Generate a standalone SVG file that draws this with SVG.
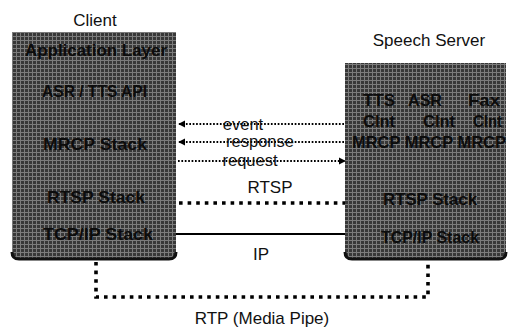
<svg xmlns="http://www.w3.org/2000/svg" width="509" height="331" viewBox="0 0 509 331">
<defs>
<style>
.lbl{font-family:"Liberation Sans",Arial,sans-serif;font-size:17px;fill:#111}
.small{font-family:"Liberation Sans",Arial,sans-serif;font-size:16.5px;fill:#111}
.bt{font-family:"Liberation Sans",Arial,sans-serif;font-size:16.5px;font-weight:bold;fill:#0c0c0c}
.box{fill:url(#tex)}
.edge{fill:none;stroke:#111;stroke-width:3}
.dot{fill:none;stroke:#000;stroke-width:1.8;stroke-dasharray:1.7 1.7}
.thick{fill:none;stroke:#000;stroke-width:3.6;stroke-dasharray:3.6 5}
.solid{fill:none;stroke:#000;stroke-width:2}
</style>
<pattern id="tex" width="4" height="4" patternUnits="userSpaceOnUse">
<rect width="4" height="4" fill="#383838"/>
<path d="M0 0.5H4M0.5 0V4" stroke="#7c7c7c" stroke-width="1"/>
</pattern>
<marker id="ah" viewBox="0 0 8 8" refX="7" refY="4" markerWidth="4" markerHeight="4" orient="auto" markerUnits="strokeWidth">
<path d="M0 0L8 4L0 8Z" fill="#000"/>
</marker>
</defs>
<rect width="509" height="331" fill="#fff"/>

<g id="client">
<text class="lbl" x="95" y="26" text-anchor="middle">Client</text>
<path class="box" d="M12 32H176V252Q176 259 169 259H19Q12 259 12 252Z"/>
<path class="edge" d="M12 252Q12 259 19 259H169Q176 259 176 252"/>
<text class="bt" x="25" y="56" textLength="142" lengthAdjust="spacingAndGlyphs">Application Layer</text>
<text class="bt" x="42" y="97" textLength="105" lengthAdjust="spacingAndGlyphs">ASR / TTS API</text>
<text class="bt" x="43" y="150" textLength="104" lengthAdjust="spacingAndGlyphs">MRCP Stack</text>
<text class="bt" x="47" y="203" textLength="98" lengthAdjust="spacingAndGlyphs">RTSP Stack</text>
<text class="bt" x="43" y="240" textLength="110" lengthAdjust="spacingAndGlyphs">TCP/IP Stack</text>
</g>

<g id="server">
<text class="lbl" x="429" y="46" text-anchor="middle">Speech Server</text>
<path class="box" d="M345 63H506V252Q506 259 499 259H352Q345 259 345 252Z"/>
<path class="edge" d="M345 252Q345 259 352 259H499Q506 259 506 252"/>
<text class="bt" x="363" y="106" textLength="32" lengthAdjust="spacingAndGlyphs">TTS</text>
<text class="bt" x="408" y="106" textLength="34" lengthAdjust="spacingAndGlyphs">ASR</text>
<text class="bt" x="468" y="106" textLength="32" lengthAdjust="spacingAndGlyphs">Fax</text>
<text class="bt" x="363" y="127" textLength="32" lengthAdjust="spacingAndGlyphs">Clnt</text>
<text class="bt" x="423" y="127" textLength="32" lengthAdjust="spacingAndGlyphs">Clnt</text>
<text class="bt" x="473" y="127" textLength="29" lengthAdjust="spacingAndGlyphs">Clnt</text>
<text class="bt" x="352" y="148" textLength="154" lengthAdjust="spacingAndGlyphs">MRCP MRCP MRCP</text>
<text class="bt" x="383" y="205" textLength="94" lengthAdjust="spacingAndGlyphs">RTSP Stack</text>
<text class="bt" x="381" y="243" textLength="98" lengthAdjust="spacingAndGlyphs">TCP/IP Stack</text>
</g>

<g id="connectors">
<line class="dot" x1="344" y1="124" x2="179" y2="124" marker-end="url(#ah)"/>
<line class="dot" x1="344" y1="142" x2="179" y2="142" marker-end="url(#ah)"/>
<line class="dot" x1="178" y1="161" x2="345" y2="161" marker-end="url(#ah)"/>
<line class="thick" x1="179" y1="203" x2="345" y2="203"/>
<line class="solid" x1="176" y1="234" x2="345" y2="234"/>
<path class="thick" d="M96 262V297H428V262"/>
<text class="small" x="243" y="130" text-anchor="middle">event</text>
<text class="small" x="260" y="147" text-anchor="middle">response</text>
<text class="small" x="250" y="166" text-anchor="middle">request</text>
<text class="lbl" x="270" y="193" text-anchor="middle">RTSP</text>
<text class="lbl" x="261" y="260" text-anchor="middle">IP</text>
<text class="lbl" x="262" y="324" text-anchor="middle">RTP (Media Pipe)</text>
</g>
</svg>
